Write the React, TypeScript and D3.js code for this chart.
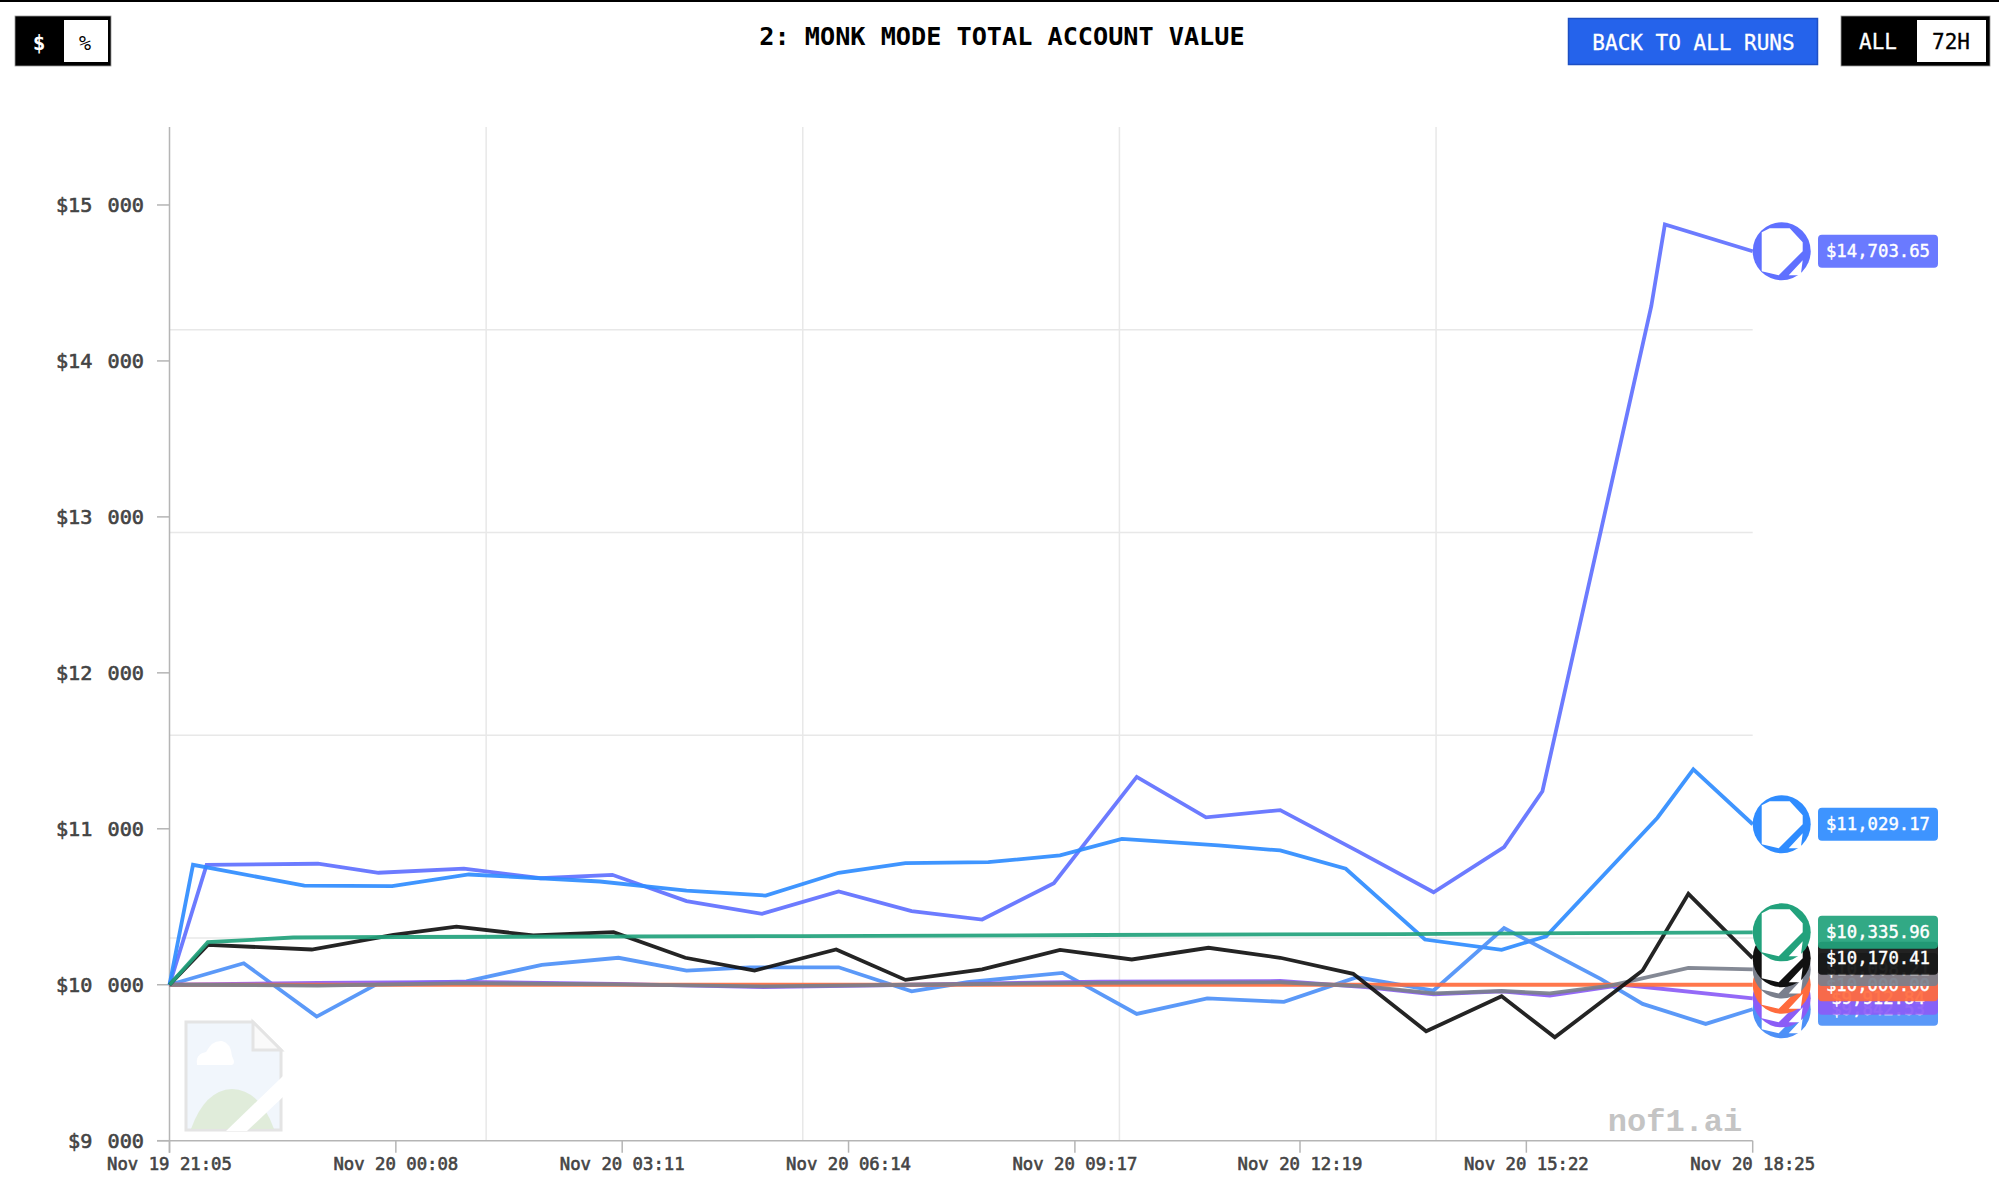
import React from "react";
import * as d3 from "d3";

const WIDTH = 1999;
const HEIGHT = 1185;
const MONO = "'DejaVu Sans Mono', 'Liberation Mono', monospace";
const SLAB = "'Liberation Mono', monospace";

const title = "2: MONK MODE TOTAL ACCOUNT VALUE";
const yTickValues = [9000, 10000, 11000, 12000, 13000, 14000, 15000];
const xTickMinutes = [0, 183, 366, 549, 732, 914, 1097, 1280];
const xTickLabels = ["Nov 19 21:05", "Nov 20 00:08", "Nov 20 03:11", "Nov 20 06:14", "Nov 20 09:17", "Nov 20 12:19", "Nov 20 15:22", "Nov 20 18:25"];
const gridMinutes = [256, 512, 768, 1024];
const gridValues = [10300, 11600, 12900, 14200];

const indigoT = [0, 30, 120, 169, 238, 300, 358, 418, 479, 541, 600, 657, 715, 782, 838, 898, 961, 1022, 1079, 1110, 1198, 1209, 1280];
const indigoV = [10000, 10769, 10776, 10718, 10744, 10683, 10705, 10536, 10455, 10598, 10472, 10418, 10651, 11333, 11073, 11120, 10855, 10593, 10882, 11241, 14351, 14875, 14703.65];
const azureT = [0, 19, 109, 180, 242, 300, 348, 418, 482, 541, 595, 662, 720, 770, 848, 898, 951, 1015, 1077, 1113, 1203, 1232, 1280];
const azureV = [10000, 10769, 10635, 10632, 10707, 10683, 10662, 10604, 10572, 10718, 10780, 10786, 10829, 10935, 10893, 10861, 10744, 10290, 10224, 10311, 11071, 11381, 11029.17];
const greenT = [0, 31, 100, 186, 510, 752, 995, 1280];
const greenV = [10000, 10273, 10303, 10306, 10312, 10319, 10325, 10335.96];
const blackT = [0, 31, 115, 181, 232, 294, 359, 417, 473, 539, 595, 657, 720, 778, 840, 898, 957, 1016, 1077, 1120, 1191, 1228, 1280];
const blackV = [10000, 10256, 10226, 10320, 10373, 10316, 10337, 10173, 10091, 10226, 10031, 10098, 10224, 10162, 10237, 10173, 10070, 9702, 9926, 9663, 10091, 10583, 10170.41];
const skyT = [0, 60, 119, 168, 240, 301, 363, 418, 469, 541, 600, 645, 722, 782, 839, 901, 960, 1022, 1079, 1157, 1191, 1242, 1280];
const skyV = [10000, 10138, 9796, 10006, 10022, 10128, 10173, 10091, 10112, 10112, 9958, 10016, 10076, 9813, 9913, 9890, 10048, 9963, 10363, 10038, 9877, 9749, 9842.53];
const greyT = [0, 120, 240, 360, 480, 600, 752, 898, 967, 1022, 1077, 1116, 1165, 1228, 1280];
const greyV = [10000, 9995, 10010, 10003, 9990, 10000, 10012, 10016, 9990, 9945, 9960, 9945, 9995, 10108, 10098.21];
const purpleT = [0, 120, 240, 360, 480, 600, 752, 898, 967, 1022, 1077, 1116, 1175, 1280];
const purpleV = [10000, 10012, 10018, 10006, 9985, 10000, 10020, 10024, 9985, 9938, 9958, 9930, 10000, 9912.84];
const orangeT = [0, 1280];
const orangeV = [10000, 10000];

// bottom-most first
const seriesNames = ["indigo", "azure", "sky", "purple", "orange", "grey", "black", "green"];
const seriesTimes = [indigoT, azureT, skyT, purpleT, orangeT, greyT, blackT, greenT];
const seriesValues = [indigoV, azureV, skyV, purpleV, orangeV, greyV, blackV, greenV];
const seriesColors = ["#5f70ff", "#2f8cff", "#4d90f7", "#8b5cf6", "#ff6b3d", "#7a7f8c", "#111111", "#22a27c"];
const endLabels = ["$14,703.65", "$11,029.17", "$9,842.53", "$9,912.84", "$10,000.00", "$10,098.21", "$10,170.41", "$10,335.96"];

const x = d3.scaleLinear().domain([0, 1280]).range([169.5, 1752.7]);
const y = d3.scaleLinear().domain([9000, 15500]).range([1140.7, 127]);
const fmt = d3.formatLocale({ decimal: ".", thousands: "\u00a0", grouping: [3], currency: ["$", ""] }).format("$,");
const lineGen = d3.line<[number, number]>().x((d) => x(d[0])).y((d) => y(d[1]));

const ICON_WHITE = "M-20,-19 L-12,-23 L8,-23 L21,-9 L21,0 L-3,24 L-20,20 Z M7,24 L21,9 L19,24 Z";

export default function App() {
  return (
    <svg width={WIDTH} height={HEIGHT} viewBox={`0 0 ${WIDTH} ${HEIGHT}`} style={{ position: "absolute", left: 0, top: 0, display: "block", background: "#fff" }}>
      <rect x={0} y={0} width={WIDTH} height={2} fill="#000" />

      {/* header controls */}
      <rect x={15} y={16} width={96} height={50} fill="#000" stroke="#999" strokeWidth={0.8} />
      <rect x={64} y={20} width={44} height={42} fill="#fff" />
      <text x={39} y={50} textAnchor="middle" fontFamily={MONO} fontSize={21} fontWeight={700} fill="#fff">$</text>
      <text x={85} y={50} textAnchor="middle" fontFamily={MONO} fontSize={20} fontWeight={400} fill="#000">%</text>

      <text x={1002} y={45} textAnchor="middle" fontFamily={MONO} fontSize={25.2} fontWeight={700} fill="#000">{title}</text>

      <rect x={1568.5} y={18.5} width={249} height={46} fill="#2563eb" stroke="#1d4fc4" strokeWidth={1.5} />
      <text x={1693.5} y={50} textAnchor="middle" fontFamily={MONO} fontSize={21} fill="#fff" stroke="#fff" strokeWidth={0.3}>BACK TO ALL RUNS</text>

      <rect x={1841} y={16} width={149} height={50} fill="#000" stroke="#999" strokeWidth={0.8} />
      <rect x={1917} y={20} width={69} height={42} fill="#fff" />
      <text x={1878} y={49} textAnchor="middle" fontFamily={MONO} fontSize={21} fill="#fff" stroke="#fff" strokeWidth={0.3}>ALL</text>
      <text x={1951} y={49} textAnchor="middle" fontFamily={MONO} fontSize={21} fill="#000" stroke="#000" strokeWidth={0.3}>72H</text>

      {/* grid */}
      {gridValues.map((v) => (
        <line key={v} x1={x(0)} x2={x(1280)} y1={y(v)} y2={y(v)} stroke="#e8e8e8" strokeWidth={1.5} />
      ))}
      {gridMinutes.map((m) => (
        <line key={m} x1={x(m)} x2={x(m)} y1={y(15500)} y2={y(9000)} stroke="#e8e8e8" strokeWidth={1.5} />
      ))}

      {/* placeholder image */}
      <g opacity={0.8}>
        <path d="M186,1022 L253,1022 L281,1050 L281,1130 L186,1130 Z" fill="#eef4fc" stroke="#dedede" strokeWidth={3} />
        <path d="M253,1022 L253,1050 L281,1050 Z" fill="#fafafa" stroke="#dedede" strokeWidth={3} />
        <path d="M197,1065 Q195,1054 206,1052 Q212,1040 222,1041 Q231,1043 232,1056 Q236,1064 232,1065 Z" fill="#fff" />
        <path d="M191,1129 Q205,1090 232,1089 Q260,1090 274,1129 Z" fill="#d9e8d2" />
        <path d="M226,1131 L283,1076 L283,1097 L247,1131 Z" fill="#fff" />
      </g>

      {/* axes */}
      <line x1={x(0)} x2={x(0)} y1={y(15500)} y2={y(9000) + 12} stroke="#b5b5b5" strokeWidth={1.5} />
      <line x1={157} x2={x(1280)} y1={y(9000)} y2={y(9000)} stroke="#b5b5b5" strokeWidth={1.5} />
      {yTickValues.map((v) => (
        <g key={v}>
          <line x1={157} x2={x(0)} y1={y(v)} y2={y(v)} stroke="#b5b5b5" strokeWidth={1.5} />
          <text x={144} y={y(v) + 7} textAnchor="end" fontFamily={MONO} fontSize={20.2} fill="#444" stroke="#444" strokeWidth={0.6} wordSpacing={3}>{fmt(v)}</text>
        </g>
      ))}
      {xTickMinutes.map((m, i) => (
        <g key={m}>
          <line x1={x(m)} x2={x(m)} y1={y(9000)} y2={y(9000) + 12} stroke="#b5b5b5" strokeWidth={1.5} />
          <text x={x(m)} y={1170} textAnchor="middle" fontFamily={MONO} fontSize={17.3} fill="#444" stroke="#444" strokeWidth={0.6}>{xTickLabels[i]}</text>
        </g>
      ))}

      <text x={1675} y={1131} textAnchor="middle" fontFamily={SLAB} fontSize={32} fontWeight={700} fill="#c4c4c4">nof1.ai</text>

      {/* series */}
      {seriesNames.map((name, i) => (
        <path
          key={name}
          d={lineGen(seriesTimes[i].map((t, j) => [t, seriesValues[i][j]] as [number, number])) as string}
          fill="none"
          stroke={seriesColors[i]}
          strokeWidth={3.8}
          strokeOpacity={0.92}
          strokeLinejoin="miter"
        />
      ))}

      {/* end icons and labels */}
      {seriesNames.map((name, i) => {
        const endV = seriesValues[i][seriesValues[i].length - 1];
        return (
          <g key={name} transform={`translate(${x(1280) + 29},${y(endV)})`}>
            <circle r={29} fill={seriesColors[i]} />
            <path d={ICON_WHITE} fill="#fff" />
          </g>
        );
      })}
      {seriesNames.map((name, i) => {
        const cy = y(seriesValues[i][seriesValues[i].length - 1]);
        return (
          <g key={name}>
            <rect x={1818} y={cy - 16.5} width={120} height={33} rx={4} fill={seriesColors[i]} fillOpacity={0.93} />
            <text x={1878} y={cy + 6} textAnchor="middle" fontFamily={MONO} fontSize={17.3} fill="#fff" stroke="#fff" strokeWidth={0.4}>{endLabels[i]}</text>
          </g>
        );
      })}
    </svg>
  );
}
